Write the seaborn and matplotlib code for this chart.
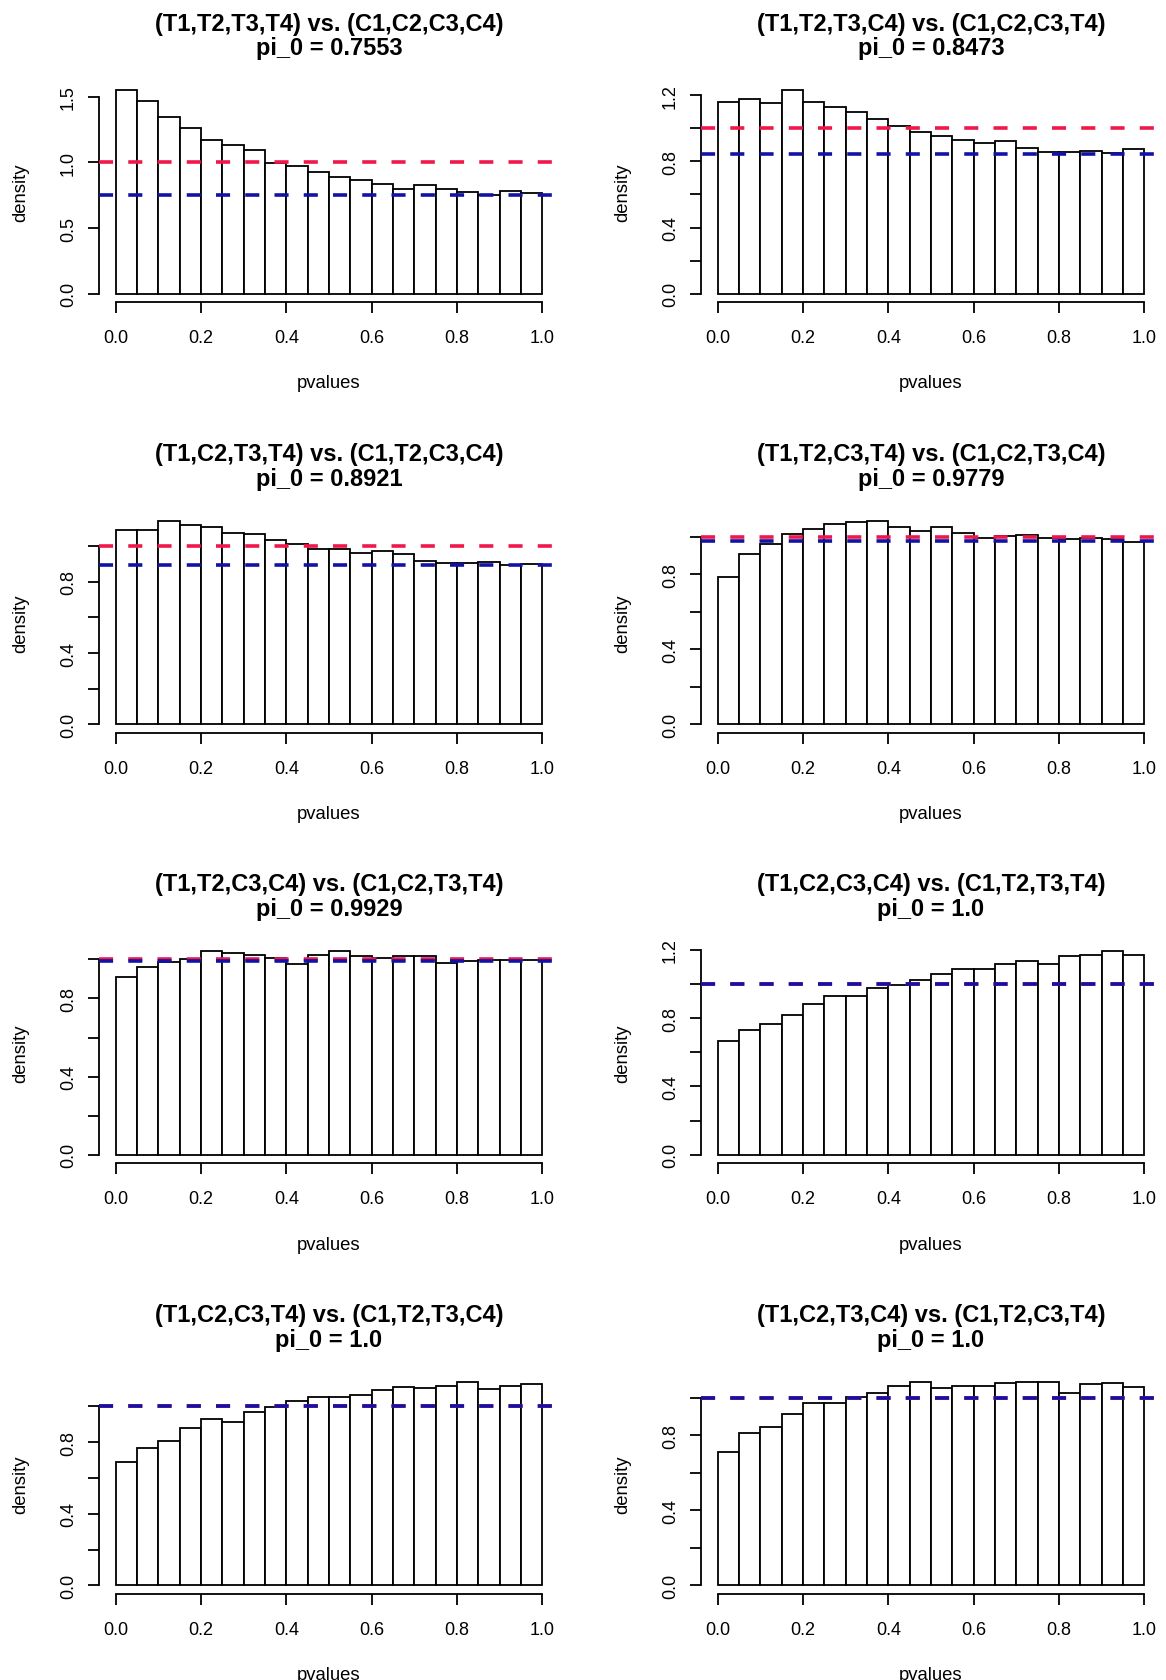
import numpy as np
import pandas as pd
import seaborn as sns
import matplotlib.pyplot as plt

sns.set_style('white')
plt.rcParams['font.family'] = ['Liberation Sans', 'DejaVu Sans']
plt.rcParams['text.color'] = 'black'
plt.rcParams['axes.labelcolor'] = 'black'

# p-value histogram bins (20 bins of width 0.05)
bin_edges = [round(0.05 * k, 2) for k in range(21)]
bin_centers = [round(0.05 * k + 0.025, 3) for k in range(20)]

titles = [
    '(T1,T2,T3,T4) vs. (C1,C2,C3,C4)',
    '(T1,T2,T3,C4) vs. (C1,C2,C3,T4)',
    '(T1,C2,T3,T4) vs. (C1,T2,C3,C4)',
    '(T1,T2,C3,T4) vs. (C1,C2,T3,C4)',
    '(T1,T2,C3,C4) vs. (C1,C2,T3,T4)',
    '(T1,C2,C3,C4) vs. (C1,T2,T3,T4)',
    '(T1,C2,C3,T4) vs. (C1,T2,T3,C4)',
    '(T1,C2,T3,C4) vs. (C1,T2,C3,T4)',
]
pi0_labels = ['0.7553', '0.8473', '0.8921', '0.9779', '0.9929', '1.0', '1.0', '1.0']
pi0_values = [0.7553, 0.8473, 0.8921, 0.9779, 0.9929, 1.0, 1.0, 1.0]

# density per bin
dens_1 = [1.549, 1.463, 1.343, 1.262, 1.169, 1.131, 1.096, 0.997, 0.972, 0.927,
          0.889, 0.866, 0.839, 0.801, 0.824, 0.796, 0.776, 0.751, 0.781, 0.768]
dens_2 = [1.156, 1.176, 1.152, 1.230, 1.158, 1.130, 1.096, 1.058, 1.016, 0.980,
          0.956, 0.930, 0.912, 0.922, 0.880, 0.854, 0.854, 0.862, 0.850, 0.872]
dens_3 = [1.087, 1.090, 1.142, 1.118, 1.105, 1.075, 1.066, 1.031, 1.010, 0.984,
          0.982, 0.960, 0.971, 0.956, 0.917, 0.906, 0.902, 0.910, 0.895, 0.900]
dens_4 = [0.784, 0.908, 0.959, 1.012, 1.039, 1.065, 1.078, 1.085, 1.051, 1.030,
          1.049, 1.021, 0.995, 1.004, 1.007, 0.993, 0.986, 0.993, 0.988, 0.970]
dens_5 = [0.912, 0.963, 0.985, 1.000, 1.042, 1.034, 1.020, 1.007, 0.976, 1.022,
          1.042, 1.015, 1.005, 1.019, 1.015, 0.983, 0.992, 0.998, 0.997, 0.995]
dens_6 = [0.664, 0.732, 0.763, 0.817, 0.883, 0.932, 0.928, 0.977, 0.994, 1.025,
          1.056, 1.087, 1.085, 1.115, 1.136, 1.115, 1.161, 1.169, 1.192, 1.169]
dens_7 = [0.689, 0.769, 0.806, 0.881, 0.930, 0.911, 0.965, 0.998, 1.031, 1.052,
          1.050, 1.061, 1.091, 1.107, 1.104, 1.115, 1.137, 1.096, 1.115, 1.124]
dens_8 = [0.708, 0.811, 0.843, 0.912, 0.972, 0.972, 1.002, 1.027, 1.060, 1.081,
          1.049, 1.064, 1.064, 1.076, 1.083, 1.085, 1.025, 1.071, 1.080, 1.057]
densities = [dens_1, dens_2, dens_3, dens_4, dens_5, dens_6, dens_7, dens_8]

# y tick step per panel (R's pretty axis)
ytick_steps = [0.5, 0.2, 0.2, 0.2, 0.2, 0.2, 0.2, 0.2]
xticks = [0.0, 0.2, 0.4, 0.6, 0.8, 1.0]

RED = '#F0184A'
BLUE = '#1212A6'

W, H = 1166, 1681
fig = plt.figure(figsize=(W / 100, H / 100), dpi=100)

# layout in pixels (R-style 4x2 mfrow grid)
col_pitch, row_pitch = 602, 430.5
ax_left, ax_top, ax_w, ax_h = 98.6, 83, 460.8, 220
lw = 1.3

for i in range(8):
    r, c = divmod(i, 2)
    left = (c * col_pitch + ax_left) / W
    bottom = 1 - (r * row_pitch + ax_top + ax_h) / H
    ax = fig.add_axes([left, bottom, ax_w / W, ax_h / H])

    df = pd.DataFrame({'pvalues': bin_centers, 'density': densities[i]})
    sns.histplot(data=df, x='pvalues', weights='density', bins=bin_edges,
                 stat='count', color='white', edgecolor='black', linewidth=lw,
                 alpha=1, ax=ax)

    ax.axhline(1.0, color=RED, lw=2.6, ls=(0, (3.9, 4.2)), zorder=3)
    ax.axhline(pi0_values[i], color=BLUE, lw=2.6, ls=(0, (3.9, 4.2)), zorder=4)

    ymax = max(densities[i])
    ax.set_xlim(-0.04, 1.04)
    ax.set_ylim(-0.04 * ymax, 1.04 * ymax)

    step = ytick_steps[i]
    yt = np.round(np.arange(0, 1.04 * ymax + 1e-9, step), 2)
    if step == 0.5:
        ylabels = ['%.1f' % v for v in yt]
    else:
        ylabels = ['%.1f' % v if k % 2 == 0 else '' for k, v in enumerate(yt)]
    ax.set_yticks(yt)
    ax.set_yticklabels(ylabels)
    ax.set_xticks(xticks)
    ax.set_xticklabels(['%.1f' % v for v in xticks])

    for s in ['top', 'right']:
        ax.spines[s].set_visible(False)
    ax.spines['left'].set_bounds(0, yt[-1])
    ax.spines['bottom'].set_bounds(0, 1)
    for s in ['left', 'bottom']:
        ax.spines[s].set_linewidth(lw)
        ax.spines[s].set_color('black')

    ax.tick_params(axis='both', direction='out', length=8.1, width=lw,
                   labelsize=13, colors='black', left=True, bottom=True)
    ax.tick_params(axis='x', pad=11.5)
    ax.tick_params(axis='y', labelrotation=90, pad=7.5)
    for lbl in ax.get_yticklabels():
        lbl.set_va('center')

    ax.set_xlabel('pvalues', fontsize=13.3, va='center')
    ax.xaxis.set_label_coords(0.5, -81 / ax_h)
    ax.set_ylabel('density', fontsize=13.3, va='center')
    ax.yaxis.set_label_coords(-78 / ax_w, 0.5)

    ax.text(0.5, 1 + 59 / ax_h, titles[i], transform=ax.transAxes,
            ha='center', va='center', fontsize=17, fontweight='bold')
    ax.text(0.5, 1 + 34 / ax_h, 'pi_0 = ' + pi0_labels[i], transform=ax.transAxes,
            ha='center', va='center', fontsize=17, fontweight='bold')

fig.savefig('out.png', dpi=100)
